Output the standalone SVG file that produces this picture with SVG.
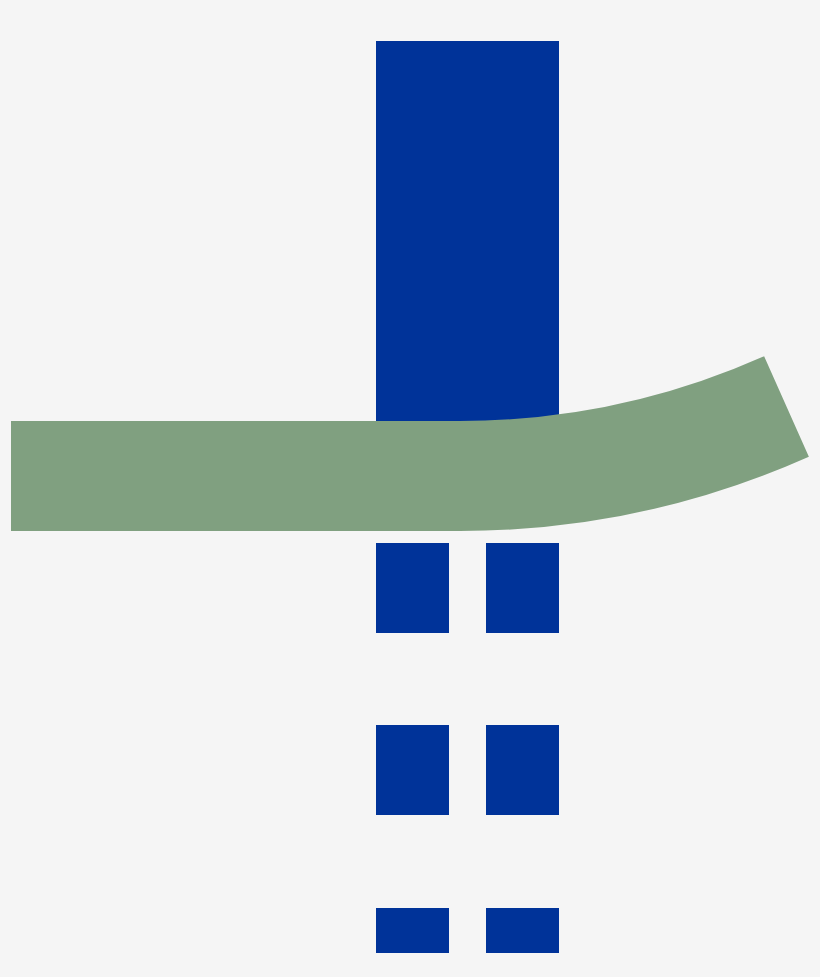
<svg xmlns="http://www.w3.org/2000/svg" width="820" height="977" viewBox="0 0 820 977">
<style>
.blue{fill:#003399}
.green{fill:none;stroke:#80A080;stroke-width:110}
</style>
<rect x="0" y="0" width="820" height="977" fill="#f5f5f5"/>
<g id="track-main"><rect class="blue" x="376" y="41" width="183" height="400"/></g>
<g id="track-dashes">
<rect class="blue" x="376" y="543" width="73" height="90"/>
<rect class="blue" x="486" y="543" width="73" height="90"/>
<rect class="blue" x="376" y="725" width="73" height="90"/>
<rect class="blue" x="486" y="725" width="73" height="90"/>
<rect class="blue" x="376" y="908" width="73" height="45"/>
<rect class="blue" x="486" y="908" width="73" height="45"/>
</g>
<g id="connectors">
<path class="green" d="M 11 476 H 460 A 803 803 0 0 0 786.5 406.5"/>
</g>
</svg>
